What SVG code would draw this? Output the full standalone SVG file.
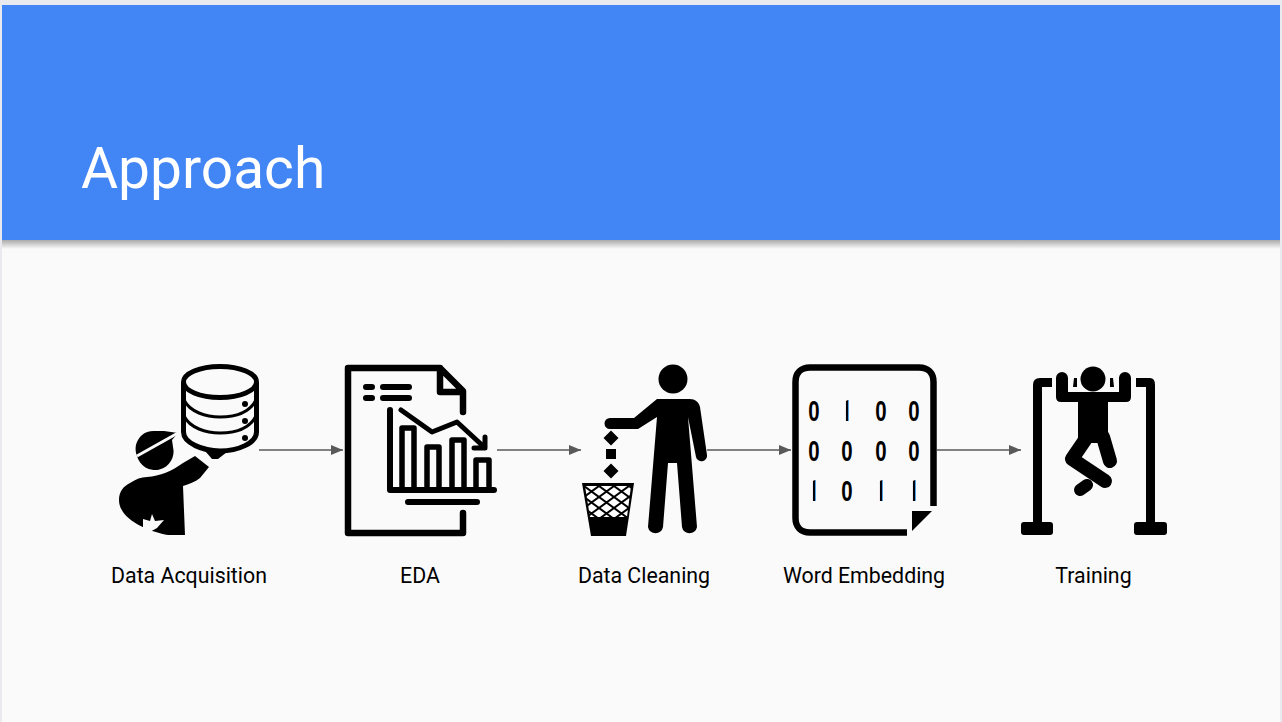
<svg xmlns="http://www.w3.org/2000/svg" width="1282" height="722" viewBox="0 0 1282 722">
<style>
.label{font-family:Roboto,"Liberation Sans",sans-serif;font-size:21.330px;fill:#000;text-anchor:middle}
.title{font-family:Roboto,"Liberation Sans",sans-serif;font-size:56.900px;fill:#fff}
.conn{stroke:#595959;stroke-width:1.300;fill:none;marker-end:url(#arrow)}
.ln{fill:none;stroke:#000;stroke-linecap:round;stroke-linejoin:round}
.bit{font-family:"Liberation Sans",sans-serif;font-weight:700;font-size:30px;fill:#000;text-anchor:middle}
.one{font-family:Roboto,"Liberation Sans",sans-serif;font-weight:700;font-size:30px;fill:#000;text-anchor:middle;clip-path:url(#stem)}
</style>
<defs>
<marker id="arrow" markerUnits="userSpaceOnUse" markerWidth="12" markerHeight="10" refX="12" refY="5" orient="auto"><path d="M0 0L12 5L0 10Z" fill="#595959"/></marker>
<linearGradient id="shadow" x1="0" y1="0" x2="0" y2="1"><stop offset="0" stop-color="#aaa"/><stop offset="1" stop-color="#fafafa"/></linearGradient>
<pattern id="mesh" patternUnits="userSpaceOnUse" x="584" y="486" width="15" height="11">
<rect width="15" height="11" fill="#fff"/>
<path d="M0 0L15 11M15 0L0 11" stroke="#000" stroke-width="2"/>
</pattern>
<clipPath id="stem" clipPathUnits="userSpaceOnUse"><rect x="-0.100" y="-30" width="4.500" height="40"/></clipPath>
</defs>
<rect width="1282" height="722" fill="#e8eaf0"/>
<rect x="2" y="240" width="1278" height="482" fill="#fafafa"/>
<rect x="2" y="240" width="1278" height="9" fill="url(#shadow)"/>
<rect x="2" y="5" width="1278" height="235" fill="#4285f4"/>
<text class="title" x="81" y="188">Approach</text>

<g id="connectors">
<path class="conn" d="M259 450H343"/>
<path class="conn" d="M497 450H581"/>
<path class="conn" d="M707 450H791"/>
<path class="conn" d="M937 450H1021"/>
</g>

<g id="node-data-acquisition">
<path d="M183.500 382V432C183.500 443 203 451 220 451C238 451 256.500 443 256.500 432V382" fill="#fafafa" stroke="#000" stroke-width="5"/>
<ellipse cx="220" cy="382" rx="36.500" ry="15.500" fill="#fafafa" stroke="#000" stroke-width="5"/>
<path class="ln" d="M184 400C190 412 206 417 220 417C236 417 250 412 256 400M184 416C190 428 206 433 220 433C236 433 250 428 256 416" stroke-width="3"/>
<circle cx="245" cy="404" r="3"/><circle cx="245" cy="421" r="3"/><circle cx="245" cy="438" r="3"/>
<path d="M206 452L227 452L218 459L212 459Z"/>
<path d="M137 456A18 18 0 0 1 155 431L164 431L178 433L172 440L173 447A18 18 0 0 1 137 456Z"/>
<path d="M137 456L178 433" stroke="#fafafa" stroke-width="3"/>
<path d="M119 500C119 491 124 486 130 483C136 479 141 477 147 477C160 476 172 471 183 463L195 456L209 467L200 478C195 482 189 484 183 486L185 535H168C150 532 119 520 119 500Z"/>
<path d="M143 519L150 521L152 514L155 521L164 520L157 528L148 533L143 530Z" fill="#fafafa"/>
</g>

<g id="node-eda">
<path class="ln" stroke-width="6.500" d="M463 412V391L440 368H348V533H463V513M440 368V392H463"/>
<path class="ln" stroke-width="6" d="M366 387H372M383 387H409M366 398H372M383 398H409M408 502H477"/>
<path class="ln" stroke-width="6" d="M390 410V490H494"/>
<path class="ln" stroke-width="5.500" d="M402 490V428H414V490M427 490V447H439V490M452 490V440H464V490M476 490V460H489V490"/>
<path class="ln" stroke-width="5" d="M401 410L432 432L457 422L483 446M485 437V448H474"/>
</g>

<g id="node-data-cleaning">
<circle cx="673" cy="379" r="14.500"/>
<path d="M610 418H634L657 399H690C695 399 699 402 700 407L707 455A5.600 5.600 0 0 1 696 457L688 417L697 527A7.600 7.600 0 0 1 682 527L677 463H668L663 527A7.600 7.600 0 0 1 648 527L657 417L638 429H610A5.500 5.500 0 0 1 610 418Z"/>
<path d="M611 430.500L618.500 438L611 445.500L603.500 438ZM606 449H616V459H606ZM611 463.500L618.500 471L611 478.500L603.500 471Z"/>
<path d="M582 483H634L626 536H591Z"/>
<path d="M585 486H631L627 517H590Z" fill="url(#mesh)"/>
</g>

<g id="node-word-embedding">
<path d="M933.500 506V382C933.500 373 928 367.500 919 367.500H810C801 367.500 795.500 373 795.500 382V518C795.500 527 801 532.500 810 532.500H907" fill="none" stroke="#000" stroke-width="6.500"/>
<path d="M912 511H932L912 531Z"/>
<g transform="translate(814 421) scale(.68 1)"><text class="bit">0</text></g>
<g transform="translate(846 421) scale(.75 1)"><text class="one">1</text></g>
<g transform="translate(881 421) scale(.68 1)"><text class="bit">0</text></g>
<g transform="translate(914 421) scale(.68 1)"><text class="bit">0</text></g>
<g transform="translate(814 461) scale(.68 1)"><text class="bit">0</text></g>
<g transform="translate(847 461) scale(.68 1)"><text class="bit">0</text></g>
<g transform="translate(881 461) scale(.68 1)"><text class="bit">0</text></g>
<g transform="translate(914 461) scale(.68 1)"><text class="bit">0</text></g>
<g transform="translate(813 501) scale(.75 1)"><text class="one">1</text></g>
<g transform="translate(847 501) scale(.68 1)"><text class="bit">0</text></g>
<g transform="translate(880 501) scale(.75 1)"><text class="one">1</text></g>
<g transform="translate(913 501) scale(.75 1)"><text class="one">1</text></g>
</g>

<g id="node-training">
<path d="M1052 378H1040Q1033 378 1033 385V522H1024Q1021 522 1021 525V532Q1021 535 1024 535H1050Q1053 535 1053 532V525Q1053 522 1050 522H1042V387H1052Z"/>
<path d="M1136 378H1150Q1155 378 1155 385V522H1164Q1167 522 1167 525V532Q1167 535 1164 535H1137Q1134 535 1134 532V525Q1134 522 1137 522H1146V387H1136Z"/>
<circle cx="1093" cy="379" r="12.500"/>
<path d="M1074 378H1077V387H1073ZM1110 378H1113L1114 387H1110Z"/>
<path d="M1056 378A6 6 0 0 1 1068 378V392H1119V378A6 6 0 0 1 1131 378V397Q1131 402 1126 402H1108V443H1078V402H1061Q1056 402 1056 397Z"/>
<path class="ln" stroke-width="14" d="M1103 437L1110 461"/>
<path class="ln" stroke-width="14" d="M1087 437L1072 459L1105 481"/>
<path class="ln" stroke-width="12" d="M1080 490L1087 485"/>
</g>

<text class="label" x="189" y="582.500">Data Acquisition</text>
<text class="label" x="420" y="582.500">EDA</text>
<text class="label" x="644" y="582.500">Data Cleaning</text>
<text class="label" x="864" y="582.500">Word Embedding</text>
<text class="label" x="1093.500" y="582.500">Training</text>
</svg>
